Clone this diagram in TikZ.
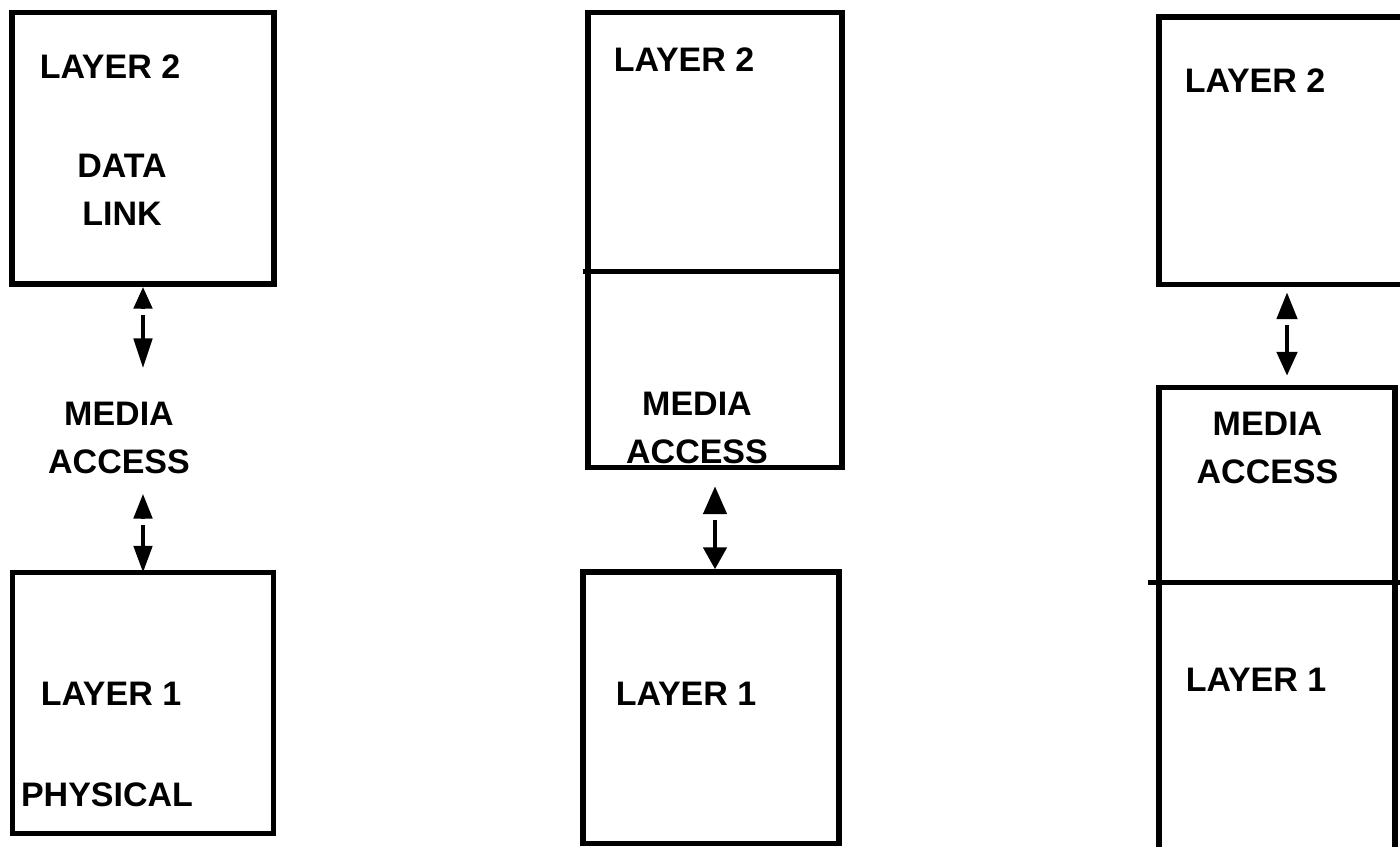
\documentclass[tikz,border=0pt]{standalone}
\usepackage{fontspec}
\setmainfont{Liberation Sans}
\usetikzlibrary{positioning,arrows.meta,fit,calc}

\begin{document}
\begin{tikzpicture}[x=0.5pt,y=-0.5pt,line width=2.7pt,
        font=\fontsize{17}{24}\selectfont\bfseries,
        layerbox/.style={draw,inner sep=0pt},
        lbl/.style={inner sep=0pt,align=center},
        updown/.style n args={3}{line width=2.4pt,
            {Triangle[length=#1,width=#3,sep=0pt]Square[length=3pt,width=4pt,color=white]}-{Triangle[length=#2,width=#3]}}]
    \useasboundingbox (0,0) rectangle (1400,846);

    % left: two separate layers
    \node[layerbox,fit={(12,12.5) (274,284)}] (l2a) {};
    \node[layerbox,fit={(12.5,572.5) (273.5,833.5)}] (l1a) {};
    \node[lbl] (l2atxt) at (110,66.5) {LAYER 2};
    \node[lbl] (dlink) at (122,190) {DATA\\LINK};
    \node[lbl] (maa) at (119,438) {MEDIA\\ACCESS};
    \node[lbl] (l1atxt) at (111,694) {LAYER 1};
    \node[lbl] (phys) at (107,795) {PHYSICAL};
    \draw[updown={11pt}{15pt}{9pt},shorten >=15.5pt]
        (l2a.south) -- (l2a.south |- maa.north);
    \draw[updown={12.5pt}{13.5pt}{9pt},shorten <=8.5pt,shorten >=-1.5pt]
        (l1a.north |- maa.south) -- (l1a.north);

    % middle: media access inside layer 2
    \node[layerbox,fit={(588,12.5) (842,467.5)}] (l2b) {};
    \draw (583,271.5) -- (839,271.5);
    \node[layerbox,fit={(583,572) (839,843.5)}] (l1b) {};
    \node[lbl] (l2btxt) at (684,59.5) {LAYER 2};
    \node[lbl] (mab) at (697,427.5) {MEDIA\\ACCESS};
    \node[lbl] (l1btxt) at (686,694) {LAYER 1};
    \draw[updown={14pt}{11pt}{11.5pt},shorten <=8pt]
        (l2b.south) -- (l2b.south |- l1b.north);

    % right: media access inside layer 1
    \node[layerbox,fit={(1159,17) (1415,284.5)}] (l2c) {};
    \node[layerbox,fit={(1159,387.5) (1395,900)}] (l1c) {};
    \draw (1148,582.5) -- (1405,582.5);
    \node[lbl] (l2ctxt) at (1255,80.5) {LAYER 2};
    \node[lbl] (mac) at (1267.5,448) {MEDIA\\ACCESS};
    \node[lbl] (l1ctxt) at (1256,680) {LAYER 1};
    \draw[updown={13.5pt}{12pt}{10pt},shorten <=2.5pt,shorten >=4.5pt]
        (l2c.south) -- (l2c.south |- l1c.north);
\end{tikzpicture}
\end{document}
